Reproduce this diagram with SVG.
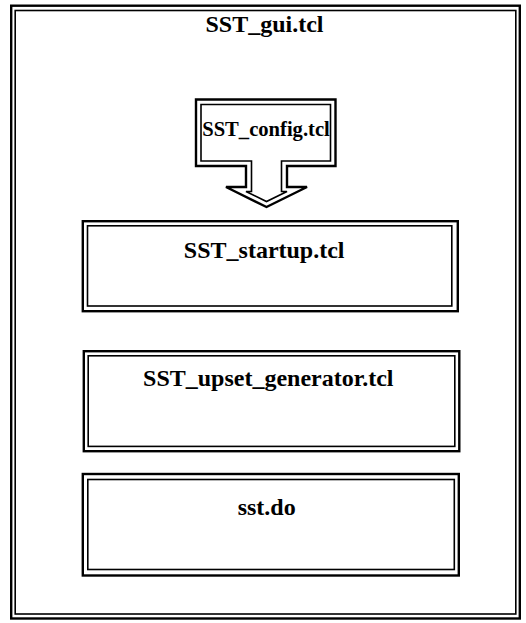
<svg xmlns="http://www.w3.org/2000/svg" width="526" height="623" viewBox="0 0 526 623">
<style>
.thick{fill:none;stroke:#000;stroke-width:2.4}
.thin{fill:none;stroke:#000;stroke-width:1.6}
.lbl{font-family:"Liberation Serif","Times New Roman",serif;font-weight:bold;font-size:24px;text-anchor:middle;fill:#000}
</style>
<rect width="526" height="623" fill="#fff"/>
<g id="sst_gui">
<rect class="thick" x="11.2" y="5.7" width="508.6" height="612.8"/>
<rect class="thin" x="15.2" y="10.5" width="500.6" height="603.5"/>
<text class="lbl" x="264.5" y="32">SST_gui.tcl</text>
</g>
<g id="connectors"></g>
<g id="sst_config">
<polygon fill="#fff" class="thick" points="196,99.5 335.5,99.5 335.5,166 287,166 287,187 307,187 266.5,207 226,187 246,187 246,166 196,166"/>
<polygon class="thin" points="201,104.5 330.5,104.5 330.5,161 281.5,161 281.5,191.5 287,191.5 266.5,201.5 246,191.5 251.5,191.5 251.5,161 201,161"/>
<text class="lbl" x="266" y="136" style="font-size:20.6px">SST_config.tcl</text>
</g>
<g id="sst_startup">
<rect class="thick" x="82.8" y="221.2" width="375" height="90"/>
<rect class="thin" x="87.5" y="225.8" width="364.3" height="80.2"/>
<text class="lbl" x="264.2" y="258">SST_startup.tcl</text>
</g>
<g id="sst_upset_generator">
<rect class="thick" x="83.8" y="351.2" width="375.5" height="100"/>
<rect class="thin" x="88.2" y="355.8" width="366.6" height="90.6"/>
<text class="lbl" x="268.3" y="386">SST_upset_generator.tcl</text>
</g>
<g id="sst_do">
<rect class="thick" x="82.8" y="474" width="376" height="101.5"/>
<rect class="thin" x="87.8" y="479.5" width="366.5" height="90"/>
<text class="lbl" x="266.7" y="515">sst.do</text>
</g>
</svg>
